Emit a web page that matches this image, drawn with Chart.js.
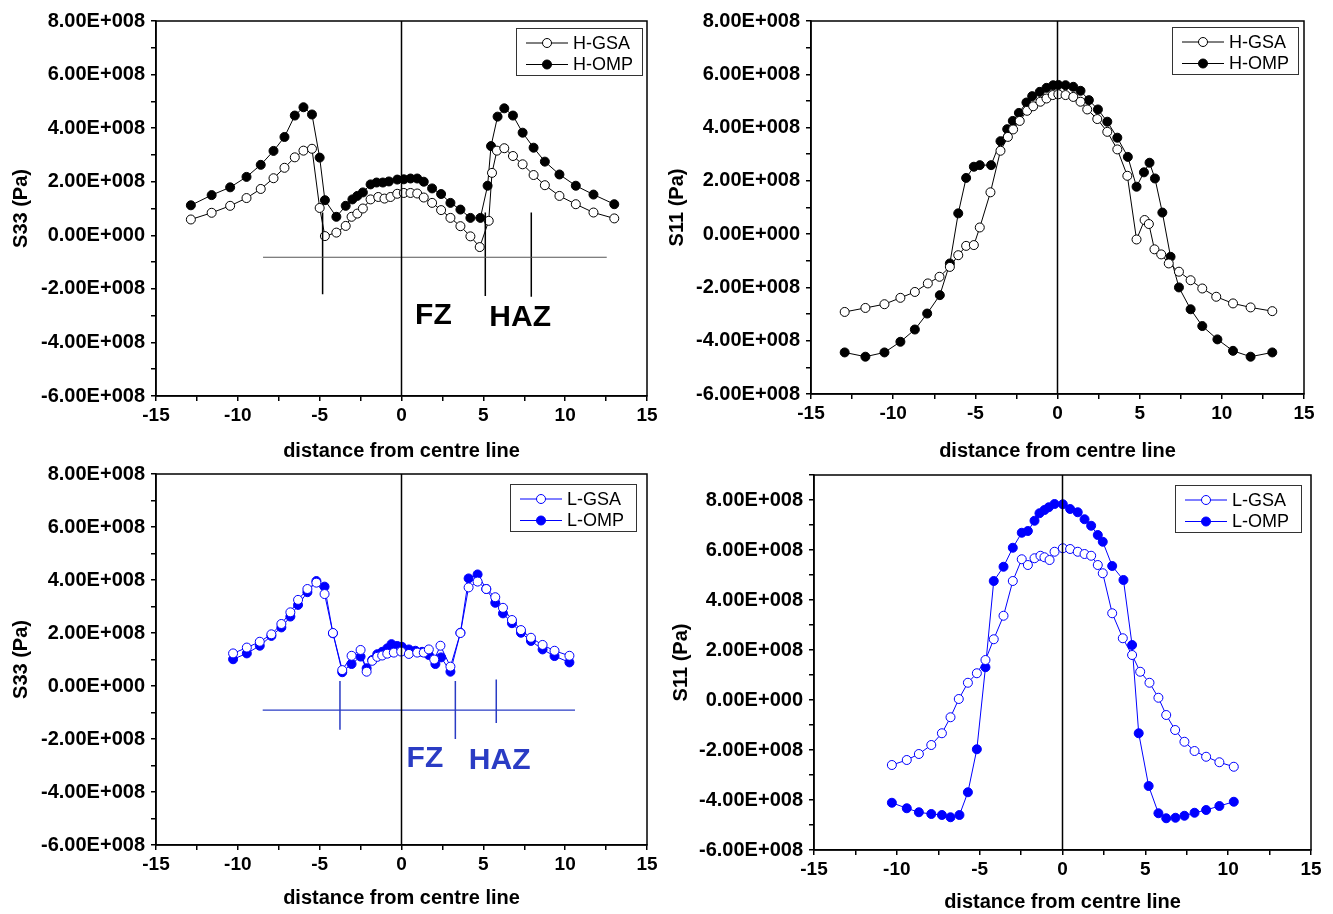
<!DOCTYPE html>
<html>
<head>
<meta charset="utf-8">
<script src="https://cdn.jsdelivr.net/npm/chart.js@4.4.1/dist/chart.umd.min.js"></script>
<style>
body { margin: 0; background: #fff; }
#wrap { position: relative; width: 1333px; height: 914px; background: #fff; overflow: hidden; }
#wrap canvas { position: absolute; }
</style>
</head>
<body>
<div id="wrap">
<canvas id="c1" width="666" height="470" style="left:0px;top:0px"></canvas>
<canvas id="c2" width="677" height="470" style="left:656px;top:0px"></canvas>
<canvas id="c3" width="666" height="459" style="left:0px;top:455px"></canvas>
<canvas id="c4" width="677" height="459" style="left:656px;top:455px"></canvas>
</div>
<script>
// stress values are in units of 1E+008 Pa, distance in mm
var PA = 1e8;

// top left: S33, H series
var hS33GsaX = [-12.87,-11.6,-10.47,-9.47,-8.6,-7.82,-7.15,-6.52,-5.99,-5.47,-5.0,-4.68,-3.98,-3.41,-3.05,-2.7,-2.36,-1.89,-1.42,-1.04,-0.67,-0.26,0.14,0.55,0.96,1.36,1.87,2.42,2.99,3.6,4.21,4.78,5.33,5.53,5.83,6.28,6.81,7.4,8.07,8.76,9.65,10.65,11.73,13.0];
var hS33GsaY = [0.59,0.84,1.10,1.39,1.73,2.13,2.52,2.91,3.16,3.23,1.02,-0.03,0.10,0.35,0.69,0.81,1.0,1.34,1.43,1.37,1.43,1.55,1.58,1.58,1.56,1.41,1.21,0.94,0.65,0.34,-0.04,-0.44,0.54,2.33,3.16,3.25,2.96,2.65,2.25,1.87,1.47,1.16,0.85,0.63];
var hS33OmpX = [-12.87,-11.6,-10.47,-9.47,-8.6,-7.82,-7.15,-6.52,-5.99,-5.47,-5.0,-4.68,-3.98,-3.41,-3.0,-2.7,-2.36,-1.89,-1.52,-1.14,-0.77,-0.26,0.14,0.55,0.96,1.36,1.87,2.42,2.99,3.6,4.21,4.82,5.26,5.47,5.87,6.28,6.81,7.4,8.07,8.76,9.65,10.65,11.73,13.0];
var hS33OmpY = [1.12,1.50,1.79,2.18,2.63,3.15,3.67,4.47,4.78,4.51,2.9,1.31,0.69,1.10,1.34,1.47,1.60,1.90,1.97,1.97,2.01,2.08,2.09,2.12,2.12,2.0,1.75,1.54,1.21,0.96,0.65,0.65,1.85,3.33,4.43,4.74,4.47,3.83,3.27,2.75,2.27,1.85,1.52,1.16];

// top right: S11, H series
var hS11GsaX = [-12.95,-11.69,-10.53,-9.56,-8.68,-7.89,-7.18,-6.55,-6.04,-5.56,-5.09,-4.73,-4.08,-3.47,-3.02,-2.7,-2.3,-1.85,-1.48,-1.04,-0.67,-0.29,0.05,0.49,0.96,1.4,1.81,2.42,3.03,3.64,4.25,4.81,5.3,5.56,5.9,6.31,6.77,7.39,8.1,8.81,9.66,10.68,11.75,13.07];
var hS11GsaY = [-2.92,-2.77,-2.63,-2.39,-2.17,-1.85,-1.6,-1.23,-0.79,-0.44,-0.41,0.25,1.57,3.13,3.65,3.93,4.25,4.63,4.8,4.97,5.09,5.22,5.25,5.22,5.15,4.97,4.68,4.32,3.84,3.18,2.19,-0.2,0.53,0.38,-0.57,-0.76,-1.1,-1.41,-1.73,-2.04,-2.35,-2.6,-2.75,-2.89];
var hS11OmpX = [-12.95,-11.69,-10.53,-9.56,-8.68,-7.93,-7.16,-6.55,-6.04,-5.56,-5.09,-4.73,-4.04,-3.47,-3.06,-2.72,-2.35,-1.89,-1.54,-1.08,-0.67,-0.26,0.05,0.49,0.96,1.4,1.91,2.46,3.03,3.64,4.28,4.81,5.26,5.6,5.93,6.38,6.88,7.39,8.1,8.81,9.73,10.68,11.75,13.07];
var hS11OmpY = [-4.44,-4.6,-4.44,-4.04,-3.58,-2.98,-2.29,-1.10,0.78,2.11,2.53,2.59,2.59,3.49,3.94,4.25,4.55,4.94,5.18,5.34,5.49,5.59,5.6,5.59,5.53,5.38,5.03,4.68,4.22,3.62,2.9,1.78,2.32,2.68,2.09,0.81,-0.85,-2.0,-2.82,-3.45,-3.95,-4.38,-4.6,-4.44];

// bottom left: S33, L series
var lS33GsaX = [-10.29,-9.45,-8.66,-7.95,-7.34,-6.79,-6.32,-5.75,-5.2,-4.70,-4.19,-3.62,-3.05,-2.5,-2.13,-1.79,-1.48,-1.18,-0.87,-0.47,-0.02,0.45,0.96,1.36,1.67,2.0,2.38,2.99,3.6,4.1,4.65,5.18,5.73,6.2,6.75,7.3,7.91,8.62,9.35,10.26];
var lS33GsaY = [1.23,1.45,1.67,1.95,2.34,2.78,3.25,3.66,3.9,3.47,2.0,0.6,1.14,1.36,0.54,0.95,1.1,1.15,1.22,1.26,1.3,1.21,1.26,1.26,1.38,1.0,1.52,0.73,2.0,3.72,3.94,3.66,3.35,2.95,2.49,2.11,1.82,1.55,1.33,1.14];
var lS33OmpX = [-10.29,-9.45,-8.66,-7.95,-7.34,-6.79,-6.32,-5.75,-5.2,-4.70,-4.19,-3.62,-3.05,-2.5,-2.13,-1.79,-1.48,-1.18,-0.87,-0.61,-0.26,0.02,0.45,0.85,1.26,1.67,2.07,2.42,2.99,3.6,4.1,4.65,5.18,5.73,6.2,6.75,7.3,7.91,8.62,9.35,10.26];
var lS33OmpY = [1.01,1.23,1.52,1.89,2.21,2.62,3.06,3.54,3.96,3.75,1.99,0.52,0.83,1.11,0.67,0.98,1.2,1.29,1.42,1.58,1.51,1.48,1.38,1.33,1.29,1.17,0.83,1.08,0.54,2.01,4.06,4.21,3.66,3.14,2.74,2.37,2.01,1.70,1.38,1.13,0.89];

// bottom right: S11, L series
var lS11GsaX = [-10.3,-9.4,-8.67,-7.92,-7.28,-6.76,-6.26,-5.71,-5.17,-4.65,-4.15,-3.56,-3.0,-2.46,-2.09,-1.69,-1.33,-1.09,-0.78,-0.48,0.02,0.46,0.92,1.33,1.73,2.13,2.43,3.0,3.64,4.2,4.69,5.25,5.79,6.26,6.8,7.36,7.97,8.67,9.47,10.34];
var lS11GsaY = [-2.6,-2.4,-2.16,-1.8,-1.33,-0.69,0.04,0.69,1.07,1.6,2.43,3.37,4.76,5.63,5.4,5.67,5.77,5.71,5.6,5.93,6.07,6.04,5.93,5.84,5.77,5.4,5.07,3.47,2.47,1.8,1.13,0.69,0.09,-0.6,-1.2,-1.67,-2.04,-2.27,-2.49,-2.67];
var lS11OmpX = [-10.3,-9.4,-8.67,-7.92,-7.28,-6.76,-6.22,-5.71,-5.17,-4.65,-4.15,-3.56,-3.0,-2.46,-2.09,-1.69,-1.39,-1.09,-0.83,-0.48,0.02,0.46,0.92,1.33,1.73,2.13,2.43,3.0,3.68,4.2,4.6,5.2,5.79,6.26,6.82,7.36,7.97,8.67,9.47,10.34];
var lS11OmpY = [-4.11,-4.33,-4.49,-4.56,-4.6,-4.69,-4.6,-3.69,-1.97,1.31,4.76,5.33,6.09,6.69,6.76,7.17,7.47,7.6,7.71,7.84,7.83,7.64,7.51,7.23,6.97,6.6,6.33,5.36,4.8,2.2,-1.33,-3.44,-4.53,-4.73,-4.71,-4.63,-4.51,-4.4,-4.24,-4.07];

// FZ / HAZ markers: zone line [x0, x1, y], boundary ticks at x, from top to bottom
var h33ZoneLine = [-8.46, 12.54, -0.82];
var h33ZoneTicksX = [-4.82, 5.12, 7.93];
var h33ZoneTicksTop = [0.85, 0.85, 0.85];
var h33ZoneTicksBottom = [-2.2, -2.27, -2.29];
var h33Labels = [{ text: 'FZ', x: 1.95, y: -3.0 }, { text: 'HAZ', x: 7.25, y: -3.08 }];

var l33ZoneLine = [-8.48, 10.6, -0.91];
var l33ZoneTicksX = [-3.76, 3.29, 5.79];
var l33ZoneTicksTop = [0.19, 0.19, 0.25];
var l33ZoneTicksBottom = [-1.65, -2.0, -1.4];
var l33Labels = [{ text: 'FZ', x: 1.43, y: -2.75 }, { text: 'HAZ', x: 6.0, y: -2.82 }];

var xTicksRange = [-15, 15];
var yRangeTop = [-6, 8];
var yRangeBottomRight = [-6, 9];

var FONT = '"Liberation Sans", Arial, sans-serif';
var BLUE = '#0000ff';
var MARK_BLUE = '#2a3cc4';

function sci(v) {
	if (Math.abs(v) < 1) return '0.00E+000';
	var e = Math.floor(Math.log10(Math.abs(v)) + 1e-9);
	var m = v / Math.pow(10, e);
	return m.toFixed(2) + 'E+' + ('00' + e).slice(-3);
}

function toPoints(xs, ys) {
	return xs.map(function(x, i) {
		return { x: x, y: ys[i] * PA };
	});
}

function seriesSet(label, xs, ys, color, filled) {
	return {
		label: label,
		data: toPoints(xs, ys),
		showLine: true,
		borderColor: color,
		borderWidth: 1,
		pointRadius: 4.5,
		pointBorderWidth: 1,
		pointBorderColor: color,
		pointBackgroundColor: filled ? color : '#fff',
		pointStyle: 'circle'
	};
}

function lineSet(points, color, width) {
	return {
		label: '',
		data: points,
		showLine: true,
		borderColor: color,
		borderWidth: width,
		pointRadius: 0
	};
}

function zoneSets(line, ticksX, tops, bottoms, hColor, vColor, hWidth) {
	var arr = [];
	arr.push(lineSet([{ x: line[0], y: line[2] * PA }, { x: line[1], y: line[2] * PA }], hColor, hWidth));
	ticksX.forEach(function(x, i) {
		arr.push(lineSet([{ x: x, y: tops[i] * PA }, { x: x, y: bottoms[i] * PA }], vColor, 1.5));
	});
	return arr;
}

// frame, zone labels and boxed legend
var panelPlugin = {
	id: 'panelExtras',
	afterDatasetsDraw: function(chart) {
		var o = chart.options.plugins.panelExtras;
		var ctx = chart.ctx;
		var a = chart.chartArea;
		var xs = chart.scales.x, ys = chart.scales.y;
		ctx.save();

		// zone labels
		if (o.labels) {
			ctx.fillStyle = o.labelColor;
			ctx.font = 'bold 30px ' + FONT;
			ctx.textAlign = 'center';
			ctx.textBaseline = 'middle';
			o.labels.forEach(function(l) {
				ctx.fillText(l.text, xs.getPixelForValue(l.x), ys.getPixelForValue(l.y * PA));
			});
		}

		// box
		ctx.strokeStyle = '#000';
		ctx.lineWidth = 1.5;
		ctx.strokeRect(a.left, a.top, a.right - a.left, a.bottom - a.top);

		// legend
		var bx = a.right - o.legend.right - o.legend.w;
		var by = a.top + o.legend.top;
		ctx.lineWidth = 1;
		ctx.strokeStyle = '#333';
		ctx.strokeRect(bx + 0.5, by + 0.5, o.legend.w, o.legend.h);
		ctx.font = '18px ' + FONT;
		ctx.textAlign = 'left';
		ctx.textBaseline = 'middle';
		o.legend.items.forEach(function(it, i) {
			var y = by + 15 + i * 21.5;
			ctx.strokeStyle = o.color;
			ctx.beginPath();
			ctx.moveTo(bx + 10, y);
			ctx.lineTo(bx + 52, y);
			ctx.stroke();
			ctx.beginPath();
			ctx.arc(bx + 31, y, 4.5, 0, Math.PI * 2);
			ctx.fillStyle = it.filled ? o.color : '#fff';
			ctx.fill();
			ctx.stroke();
			ctx.fillStyle = '#000';
			ctx.fillText(it.label, bx + 57, y + 1);
		});
		ctx.restore();
	}
};

function makePanel(id, p) {
	var ctx = document.getElementById(id).getContext('2d');
	var datasets = [];

	datasets.push(lineSet([{ x: 0, y: p.yRange[0] * PA }, { x: 0, y: p.yRange[1] * PA }], '#000', 1.5));
	if (p.zones) datasets = datasets.concat(p.zones);
	datasets.push(seriesSet(p.names[0], p.gsa[0], p.gsa[1], p.color, false));
	datasets.push(seriesSet(p.names[1], p.omp[0], p.omp[1], p.color, true));

	var xTickFont = { family: FONT, size: 19, weight: 'bold' };
	var yTickFont = { family: FONT, size: 20, weight: 'bold' };
	var titleFont = { family: FONT, size: 20, weight: 'bold' };

	return new Chart(ctx, {
		type: 'scatter',
		data: { datasets: datasets },
		plugins: [panelPlugin],
		options: {
			responsive: false,
			animation: false,
			events: [],
			layout: { padding: { top: p.pad[0], right: p.pad[1], bottom: 0, left: 0 } },
			plugins: {
				legend: { display: false },
				tooltip: { enabled: false },
				panelExtras: {
					color: p.color,
					labels: p.labels,
					labelColor: p.labelColor,
					legend: {
						right: p.legendPos[0], top: p.legendPos[1], w: 126, h: 47,
						items: [{ label: p.names[0], filled: false }, { label: p.names[1], filled: true }]
					}
				}
			},
			scales: {
				x: {
					type: 'linear',
					min: xTicksRange[0],
					max: xTicksRange[1],
					afterFit: function(s) { s.height = p.xHeight; },
					ticks: {
						stepSize: 2.5,
						autoSkip: false,
						maxRotation: 0,
						padding: 3,
						color: '#000',
						font: xTickFont,
						callback: function(v) {
							return Math.abs(v % 5) < 1e-6 ? String(v) : '';
						}
					},
					grid: { drawOnChartArea: false, tickLength: 5, color: '#000', lineWidth: 1.5 },
					border: { color: '#000', width: 1.5 },
					title: {
						display: true,
						text: 'distance from centre line',
						color: '#000',
						font: titleFont,
						padding: { top: 0, bottom: p.xTitlePad }
					}
				},
				y: {
					type: 'linear',
					min: p.yRange[0] * PA,
					max: p.yRange[1] * PA,
					afterFit: function(s) { s.width = p.yWidth; },
					ticks: {
						stepSize: PA,
						autoSkip: false,
						padding: 6,
						color: '#000',
						font: yTickFont,
						callback: function(v) {
							return Math.abs(Math.round(v / PA)) % 2 === 0 ? sci(v) : '';
						}
					},
					grid: { drawOnChartArea: false, tickLength: 5, color: '#000', lineWidth: 1.5 },
					border: { color: '#000', width: 1.5 },
					title: {
						display: true,
						text: p.yTitle,
						color: '#000',
						font: titleFont,
						padding: { top: p.yTitlePad, bottom: 0 }
					}
				}
			}
		}
	});
}

makePanel('c1', {
	names: ['H-GSA', 'H-OMP'],
	gsa: [hS33GsaX, hS33GsaY],
	omp: [hS33OmpX, hS33OmpY],
	color: '#000',
	yTitle: 'S33 (Pa)',
	yRange: yRangeTop,
	pad: [21, 19],
	yWidth: 156,
	xHeight: 74,
	xTitlePad: 7,
	yTitlePad: 9,
	legendPos: [5, 7],
	zones: zoneSets(h33ZoneLine, h33ZoneTicksX, h33ZoneTicksTop, h33ZoneTicksBottom, '#555', '#000', 1),
	labels: h33Labels,
	labelColor: '#000'
});

makePanel('c2', {
	names: ['H-GSA', 'H-OMP'],
	gsa: [hS11GsaX, hS11GsaY],
	omp: [hS11OmpX, hS11OmpY],
	color: '#000',
	yTitle: 'S11 (Pa)',
	yRange: yRangeTop,
	pad: [21, 29],
	yWidth: 155,
	xHeight: 76,
	xTitlePad: 7,
	yTitlePad: 9,
	legendPos: [6, 6]
});

makePanel('c3', {
	names: ['L-GSA', 'L-OMP'],
	gsa: [lS33GsaX, lS33GsaY],
	omp: [lS33OmpX, lS33OmpY],
	color: BLUE,
	yTitle: 'S33 (Pa)',
	yRange: yRangeTop,
	pad: [19, 19],
	yWidth: 156,
	xHeight: 69,
	xTitlePad: 4,
	yTitlePad: 9,
	legendPos: [11, 10],
	zones: zoneSets(l33ZoneLine, l33ZoneTicksX, l33ZoneTicksTop, l33ZoneTicksBottom, MARK_BLUE, MARK_BLUE, 1.2),
	labels: l33Labels,
	labelColor: MARK_BLUE
});

makePanel('c4', {
	names: ['L-GSA', 'L-OMP'],
	gsa: [lS11GsaX, lS11GsaY],
	omp: [lS11OmpX, lS11OmpY],
	color: BLUE,
	yTitle: 'S11 (Pa)',
	yRange: yRangeBottomRight,
	pad: [20, 22],
	yWidth: 158,
	xHeight: 64,
	xTitlePad: 0,
	yTitlePad: 13,
	legendPos: [10, 10]
});
</script>
</body>
</html>
